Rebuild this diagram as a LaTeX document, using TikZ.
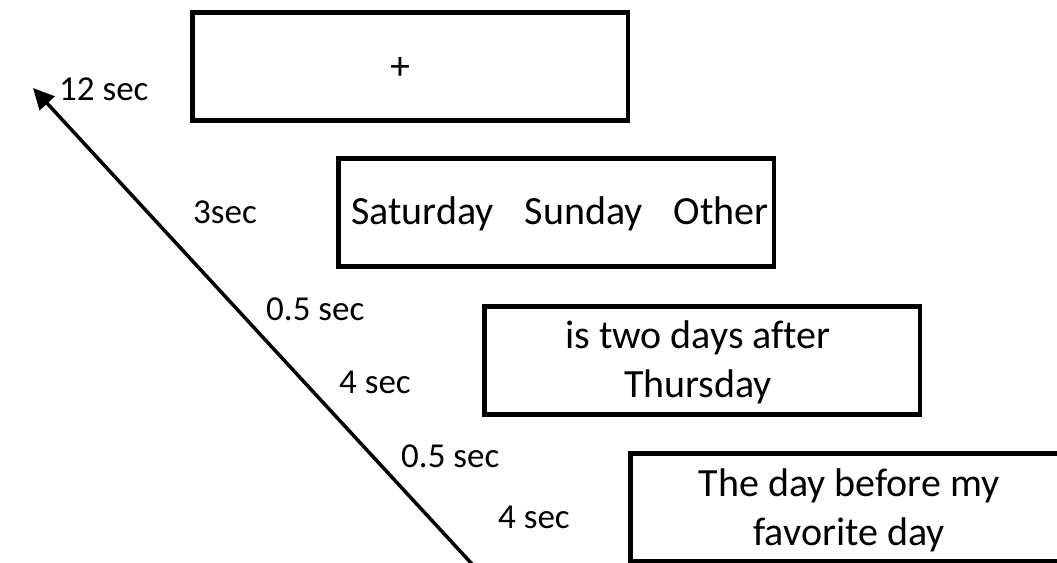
\documentclass[tikz,border=0pt]{standalone}
\usepackage{fontspec}
\setmainfont{Carlito}[Ligatures=CommonOff]
\usetikzlibrary{arrows.meta}
\begin{document}
\begin{tikzpicture}[x=1pt,y=-1pt,
  slide/.style={draw=black, line width=4.5pt, outer sep=2.25pt, minimum width=435.5pt,
    minimum height=108pt, inner sep=0pt, anchor=north west},
  slidetext/.style={inner sep=0pt, align=center, font=\fontsize{40}{49}\selectfont},
  lbl/.style={anchor=base west, inner sep=0pt, font=\fontsize{35}{42}\selectfont},
  timeline/.style={line width=3.5pt, -{Triangle[length=21pt,width=20pt]}}]
\useasboundingbox (0,0) rectangle (1057,562);
\clip (0,0) rectangle (1057,562);
\fill[white] (0,0) rectangle (1057,562);
\node[slide] (s1) at (190,10) {};
\node[slide] (s2) at (336,156) {};
\node[slide] (s3) at (482,304) {};
\node[slide] (s4) at (628,451) {};
\node[slidetext] (t1) at ([xshift=-10pt,yshift=-2pt]s1.center) {+};
\node[slidetext] (t2) at ([xshift=4pt,yshift=-2pt]s2.center) {Saturday\hspace{22pt} Sunday\hspace{22pt} Other};
\node[slidetext] (t3) at ([xshift=-4pt,yshift=-2pt]s3.center) {is two days after\\Thursday};
\node[slidetext] (t4) at ([xshift=1pt,yshift=-3pt]s4.center) {The day before my\\favorite day};
\coordinate (tail) at (472,564);
\coordinate (tip) at (33,88);
\draw[timeline] (tail) -- (tip);
\node[lbl] (l1) at (59,100) {12 sec};
\node[lbl] (l2) at (193,223) {3sec};
\node[lbl] (l3) at (266,320) {0.5 sec};
\node[lbl] (l4) at (339,393) {4 sec};
\node[lbl] (l5) at (401,467) {0.5 sec};
\node[lbl] (l6) at (498,528) {4 sec};
\end{tikzpicture}
\end{document}
